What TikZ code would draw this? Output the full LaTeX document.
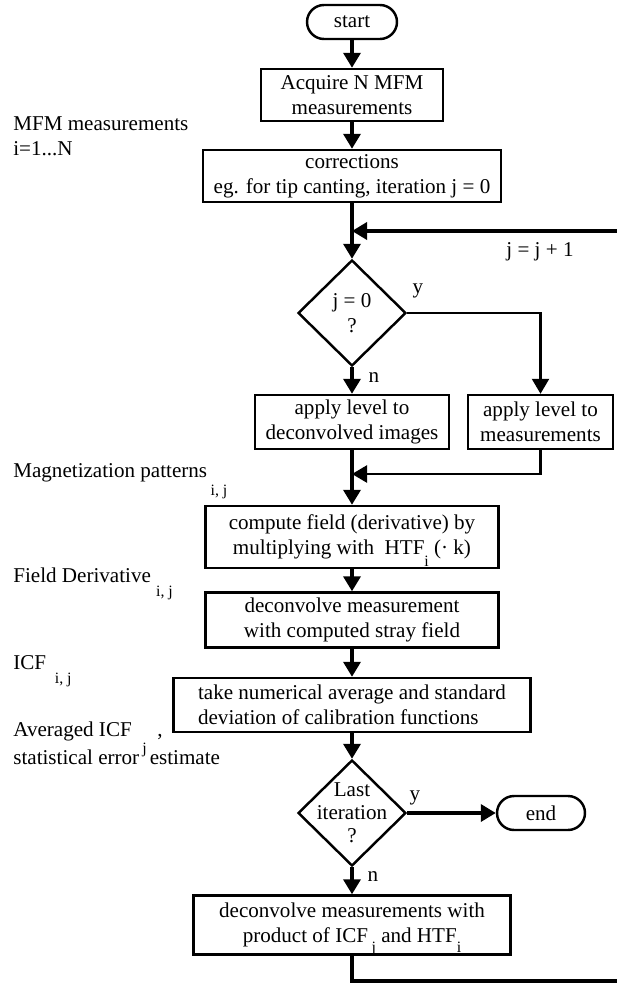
\documentclass[tikz,border=0pt]{standalone}
\usepackage{fontspec}
\setmainfont{Liberation Serif}
\usetikzlibrary{shapes.geometric,arrows.meta}
\newcommand{\lowidx}[2][9pt]{\smash{\raisebox{-#1}{\fontsize{9}{10}\selectfont #2}}}

\begin{document}
\begin{tikzpicture}[x=0.02cm, y=-0.02cm,
		font=\fontsize{12}{14}\selectfont,
		flow/.style={line width=2pt, -{Triangle[length=0.3cm,width=0.34cm]}},
		branch/.style={line width=1.4pt},
		procbox/.style={draw, line width=1.4pt, align=center, inner sep=2pt},
		termbox/.style={draw, line width=1.4pt, rounded corners=0.34cm, minimum width=1.8cm, minimum height=0.68cm},
		decision/.style={draw, diamond, line width=1.4pt, minimum width=2.16cm, minimum height=2.12cm, inner sep=0pt},
		sidetext/.style={anchor=west, align=left, inner sep=0pt}]

		\useasboundingbox (0,0) rectangle (617,983);

		\node [termbox] (start) at (352,22) {start};
		\node [procbox, minimum width=3.64cm, minimum height=1.04cm] (acquire) at (352,95) {Acquire N MFM\\measurements};
		\node [procbox, minimum width=5.96cm, minimum height=1.04cm] (corr) at (352,176) {corrections\\eg. for tip canting, iteration j = 0};

		\node [decision] (firstq) at (352,313) {};
		\node [align=center, inner sep=0pt] (firstqtext) at (firstq) {j = 0\\?};

		\node [procbox, minimum width=3.88cm, minimum height=1.08cm] (levdec) at (352,422) {apply level to\\deconvolved images};
		\node [procbox, minimum width=2.9cm, minimum height=1.08cm] (levmeas) at (540.5,422) {apply level to\\measurements};

		\node [procbox, minimum width=5.86cm, minimum height=1.24cm] (field) at (352,537) {compute field (derivative) by\\multiplying with\ \ HTF\lowidx[7pt]{i} (· k)};
		\node [procbox, minimum width=5.86cm, minimum height=1.1cm] (deconv) at (352,620) {deconvolve measurement\\with computed stray field};
		\node [procbox, align=left, minimum width=7.14cm, minimum height=1.08cm] (avg) at (352,705) {take numerical average and standard\\deviation of calibration functions};

		\node [decision] (lastq) at (352,813) {};
		\node [align=center, inner sep=0pt, font=\fontsize{12}{13}\selectfont] (lastqtext) at (lastq) {Last\\iteration\\?};
		\node [termbox, minimum width=1.76cm] (finish) at (541,813) {end};

		\node [procbox, minimum width=6.34cm, minimum height=1.18cm] (final) at (352,925) {deconvolve measurements with\\product of ICF\,\lowidx[6pt]{j} and HTF\lowidx[6pt]{i}};

		\coordinate (loopin) at (617,231);
		\coordinate (join) at (352,231);
		\coordinate (merge) at (352,474);
		\coordinate (loopout) at (617,981);

		\draw [flow] (start) -- (acquire);
		\draw [flow] (acquire) -- (corr);
		\draw [flow] (corr) -- (firstq);
		\draw [flow] (loopin) -- (join);
		\draw [flow] (firstq) -- (levdec);
		\draw [flow, branch] (firstq.east) -| (levmeas.north);
		\draw [flow] (levdec) -- (field);
		\draw [flow, branch] (levmeas.south) |- (merge);
		\draw [flow] (field) -- (deconv);
		\draw [flow] (deconv) -- (avg);
		\draw [flow] (avg) -- (lastq);
		\draw [flow] (lastq) -- (finish);
		\draw [flow] (lastq) -- (final);
		\draw [line width=2pt] (final.south) |- (loopout);

		\node (loopnote) at (540,252) {j = j + 1};
		\node (yes1) at (418,291) {y};
		\node (no1) at (374,378) {n};
		\node (yes2) at (415,798) {y};
		\node (no2) at (373,877) {n};

		\node [sidetext] (mfmlabel) at (13,136) {MFM measurements\\i=1...N};
		\node [sidetext] (maglabel) at (13,473) {Magnetization patterns\,\lowidx[10pt]{i, j}};
		\node [sidetext] (fieldlabel) at (13,575) {Field Derivative\ \lowidx[8pt]{i, j}};
		\node [sidetext] (icflabel) at (13,663) {ICF\ \,\lowidx[8pt]{i, j}};
		\node [sidetext] (avglabel) at (13,743) {Averaged ICF\ \ \lowidx[10pt]{j}\ \ ,\\[2pt]statistical error\ \ estimate};
\end{tikzpicture}
\end{document}
